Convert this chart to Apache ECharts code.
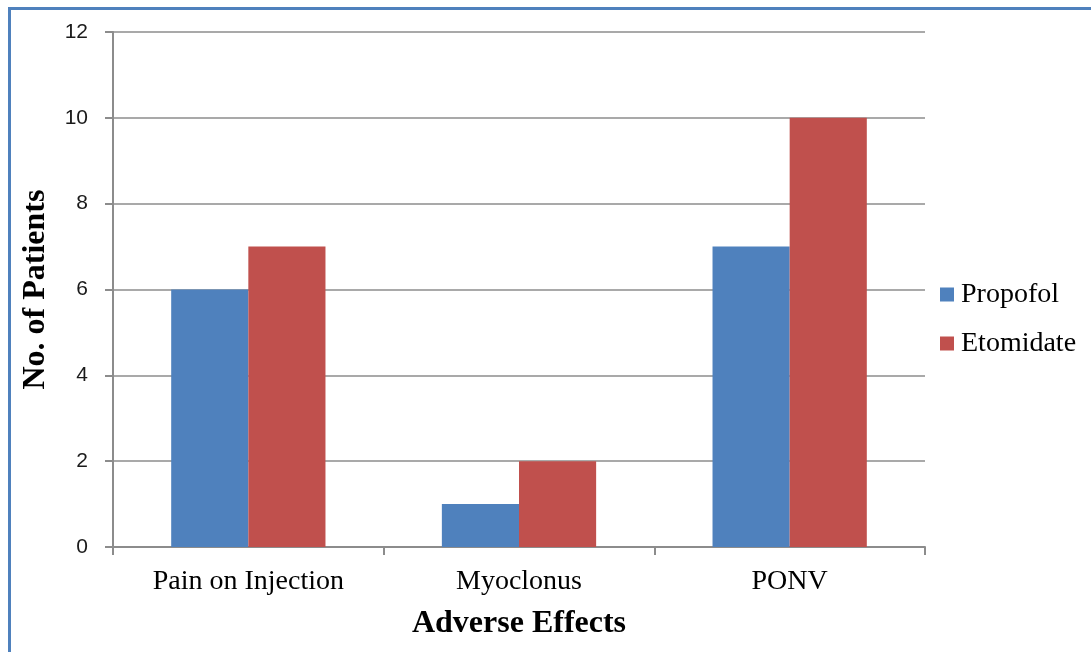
<!DOCTYPE html>
<html><head><meta charset="utf-8">
<script src="https://cdn.jsdelivr.net/npm/echarts@6/dist/echarts.min.js"></script>
<style>
html,body{margin:0;padding:0;background:#fff;}
#wrap{position:absolute;left:0;top:0;width:1091px;height:652px;}
#border{position:absolute;left:8px;top:7px;width:1083px;height:645px;border-top:3px solid #4F81BD;border-left:3px solid #4F81BD;box-sizing:border-box;}
#chart{position:absolute;left:0;top:0;width:1091px;height:652px;}
</style></head>
<body><div id="wrap"><div id="border"></div><div id="chart"></div></div>
<script>
const categories = ['Pain on Injection', 'Myoclonus', 'PONV'];
const propofol = [6, 1, 7];
const etomidate = [7, 2, 10];
const seriesNames = ['Propofol', 'Etomidate'];

const chart = echarts.init(document.getElementById('chart'), null, {renderer:'canvas'});
chart.setOption({
  animation:false,
  backgroundColor:'transparent',
  grid:{left:113, right:166, top:32, bottom:105, containLabel:false},
  legend:{
    data:seriesNames, orient:'vertical', left:940, top:280, itemWidth:14, itemHeight:14, itemGap:20,
    icon:'rect', padding:0,
    textStyle:{fontFamily:'Liberation Serif', fontSize:28, lineHeight:29, color:'#000', padding:[0,0,0,2]}
  },
  xAxis:{
    type:'category', data:categories,
    name:'Adverse Effects', nameLocation:'middle', nameGap:61,
    nameTextStyle:{fontFamily:'Liberation Serif', fontWeight:'bold', fontSize:32, color:'#000'},
    axisLine:{lineStyle:{color:'#8c8c8c', width:2}},
    axisTick:{show:true, length:8, alignWithLabel:false, lineStyle:{color:'#8c8c8c', width:2}},
    axisLabel:{fontFamily:'Liberation Serif', fontSize:28, color:'#000', margin:21}
  },
  yAxis:{
    type:'value', min:0, max:12, interval:2,
    name:'No. of Patients', nameLocation:'middle', nameGap:61, nameRotate:90,
    nameTextStyle:{fontFamily:'Liberation Serif', fontWeight:'bold', fontSize:32, color:'#000'},
    axisLine:{show:true, lineStyle:{color:'#8c8c8c', width:2}},
    axisTick:{show:true, length:8, lineStyle:{color:'#8c8c8c', width:2}},
    splitLine:{lineStyle:{color:'#8c8c8c', width:1.5}},
    axisLabel:{fontFamily:'Liberation Sans', fontSize:21, color:'#1a1a1a', margin:25}
  },
  series:[
    {name:seriesNames[0], type:'bar', data:propofol, barGap:'0%', barCategoryGap:'43%', itemStyle:{color:'#4F81BD'}},
    {name:seriesNames[1], type:'bar', data:etomidate, barGap:'0%', barCategoryGap:'43%', itemStyle:{color:'#C0504D'}}
  ]
});
</script></body></html>
